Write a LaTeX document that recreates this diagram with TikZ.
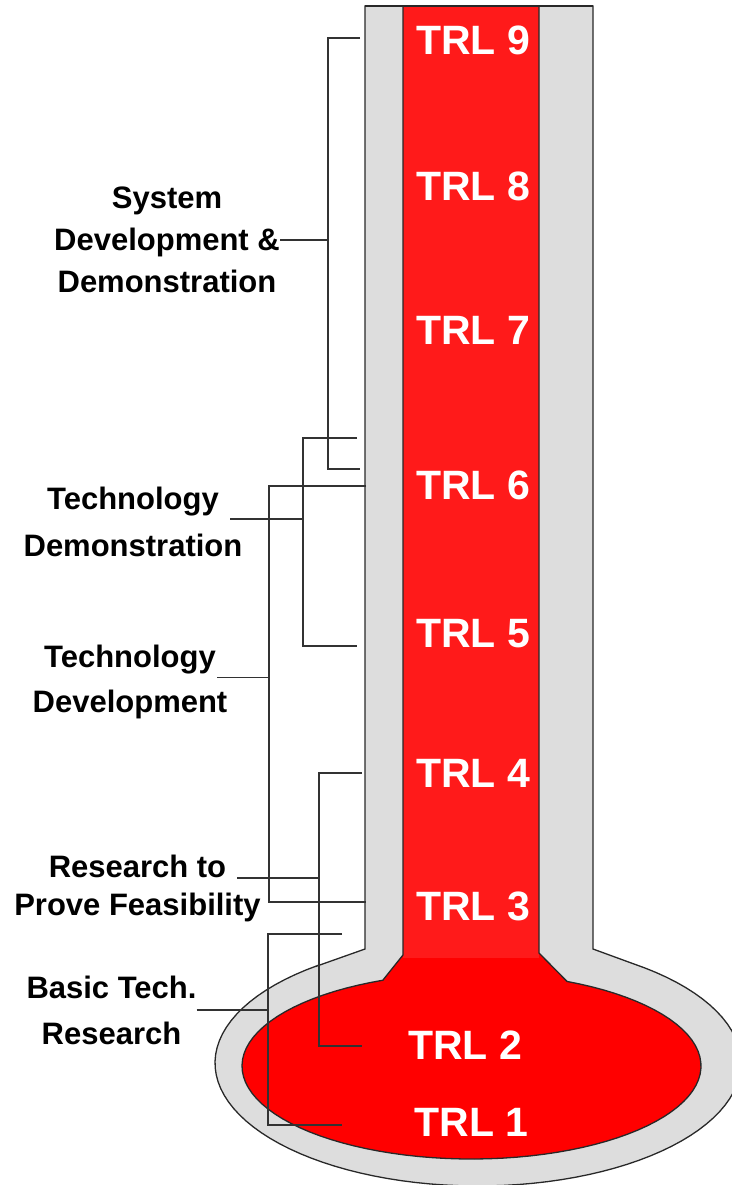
\documentclass[tikz,border=0pt]{standalone}
\usepackage{fontspec}
\setmainfont{Liberation Sans}
\usetikzlibrary{positioning,calc}

\definecolor{tubegray}{RGB}{221,221,221}
\definecolor{stemred}{RGB}{255,26,26}
\definecolor{rimgray}{RGB}{40,40,40}
\definecolor{wiregray}{RGB}{50,50,50}

\begin{document}
\begin{tikzpicture}[x=1pt,y=-1pt,
    trl/.style={text=white,inner sep=0pt,font=\fontsize{41}{41}\selectfont\bfseries},
    lbl/.style={align=center,inner sep=0pt,font=\fontsize{31}{#1}\selectfont\bfseries},
    bracket/.style={draw=wiregray,line width=1.6pt},
    rim/.style={draw=rimgray,line width=1.3pt}]

    \useasboundingbox (0,0) rectangle (731,1185);

    % glass tube and bulb
    \path[fill=tubegray,rim] (365,6) -- (365,949) -- (317,966)
        -- plot[domain=127.7:413.9,samples=90] ({478+263*cos(\x)},{1063-123*sin(\x)})
        -- (593,949) -- (593,6) -- cycle;

    % liquid
    \fill[red] (403,6) -- (403,955) -- (383,980)
        -- plot[domain=112.7:425.4,samples=90] ({471.5+229.5*cos(\x)},{1066-93*sin(\x)})
        -- (539,953) -- (539,6) -- cycle;
    \fill[stemred] (403,6) rectangle (539,958);
    \draw[rim] (403,6) -- (403,955) -- (383,980)
        -- plot[domain=112.7:425.4,samples=90] ({471.5+229.5*cos(\x)},{1066-93*sin(\x)})
        -- (539,953) -- (539,6);
    \draw[rim] (365,6) -- (593,6);

    % levels
    \node[trl] (trl9) at (473,40) {TRL 9};
    \node[trl] (trl8) at (473,186) {TRL 8};
    \node[trl] (trl7) at (473,330) {TRL 7};
    \node[trl] (trl6) at (473,485) {TRL 6};
    \node[trl] (trl5) at (473,634) {TRL 5};
    \node[trl] (trl4) at (473,773) {TRL 4};
    \node[trl] (trl3) at (473,906) {TRL 3};
    \node[trl] (trl2) at (465,1045) {TRL 2};
    \node[trl] (trl1) at (471.5,1122) {TRL 1};

    % phases
    \node[lbl=42] (sdd) at (167,240) {System\\Development \&\\Demonstration};
    \node[lbl=47] (tdemo) at (133,522) {Technology\\Demonstration};
    \node[lbl=45] (tdev) at (130,681.5) {Technology\\Development};
    \node[lbl=38] (rpf) at (137.5,888) {Research to\\Prove Feasibility};
    \node[lbl=46] (btr) at (111.5,1010) {Basic Tech.\\Research};

    \coordinate (sdd-top) at (360,38);
    \coordinate (sdd-bot) at (360,469);
    \coordinate (tdemo-top) at (357,438);
    \coordinate (tdemo-bot) at (357,646);
    \coordinate (tdemo-tip) at (230,519);
    \coordinate (tdev-top) at (366,486);
    \coordinate (tdev-bot) at (366,902);
    \coordinate (tdev-tip) at (217,677.5);
    \coordinate (rpf-top) at (362,773);
    \coordinate (rpf-bot) at (362,1046);
    \coordinate (rpf-tip) at (237,877.7);
    \coordinate (btr-top) at (342,934);
    \coordinate (btr-bot) at (342,1125);

    % brackets
    \draw[bracket] (sdd-top) -- ++(-32,0) |- (sdd-bot);
    \draw[bracket] (sdd.east) -- (sdd.east -| 328,0);
    \draw[bracket] (tdemo-top) -- ++(-54,0) |- (tdemo-bot);
    \draw[bracket] (tdemo-tip) -- (tdemo-tip -| 303,0);
    \draw[bracket] (tdev-top) -- ++(-97,0) |- (tdev-bot);
    \draw[bracket] (tdev-tip) -- (tdev-tip -| 269,0);
    \draw[bracket] (rpf-top) -- ++(-43,0) |- (rpf-bot);
    \draw[bracket] (rpf-tip) -- (rpf-tip -| 319,0);
    \draw[bracket] (btr-top) -- ++(-74,0) |- (btr-bot);
    \draw[bracket] (btr.east) -- (btr.east -| 268,0);
\end{tikzpicture}
\end{document}
